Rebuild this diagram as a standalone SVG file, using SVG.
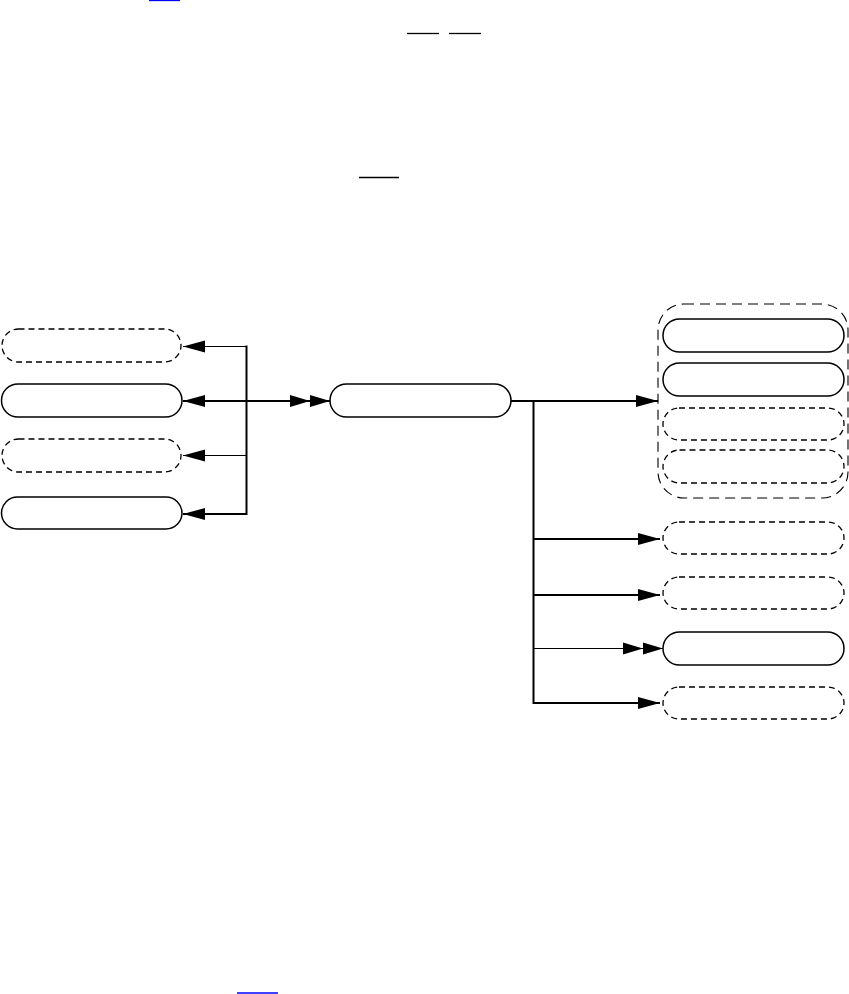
<svg xmlns="http://www.w3.org/2000/svg" width="849" height="994" viewBox="0 0 849 994">
<style>
.n{fill:#fff;stroke:#000;stroke-width:1.5}
.d{fill:#fff;stroke:#000;stroke-width:1.3;stroke-dasharray:6,4}
.g{fill:none;stroke:#000;stroke-width:1.1;stroke-dasharray:10,6}
.c{fill:none;stroke:#000}
.t{stroke-width:2}
.h{stroke-width:1.2}
</style>
<defs>
<marker id="a" markerUnits="userSpaceOnUse" markerWidth="22" markerHeight="12" refX="22" refY="6" orient="auto" overflow="visible"><path d="M0,0 L22,6 L0,12 Z" fill="#000"/></marker>
<marker id="aa" markerUnits="userSpaceOnUse" markerWidth="40" markerHeight="12" refX="40" refY="6" orient="auto" overflow="visible"><path d="M0,0 L20,6 L0,12 Z M20,0 L40,6 L20,12 Z" fill="#000"/></marker>
</defs>
<g id="underlines">
<line x1="149" y1="0.5" x2="180" y2="0.5" stroke="#0000ff" stroke-width="1.3"/>
<line x1="407" y1="33.5" x2="439" y2="33.5" stroke="#000" stroke-width="1.3"/>
<line x1="449" y1="33.5" x2="481" y2="33.5" stroke="#000" stroke-width="1.3"/>
<line x1="359" y1="177.5" x2="399" y2="177.5" stroke="#000" stroke-width="1.3"/>
<line x1="237" y1="993" x2="278" y2="993" stroke="#0000ff" stroke-width="1.3"/>
</g>
<g id="connectors">
<line class="c t" x1="246.5" y1="345.5" x2="246.5" y2="515"/>
<path class="c h" d="M246.5,346.5 H183" marker-end="url(#a)"/>
<path class="c t" d="M246.5,401 H183" marker-end="url(#a)"/>
<path class="c t" d="M246.5,401 H330" marker-end="url(#aa)"/>
<path class="c h" d="M246.5,455.5 H183" marker-end="url(#a)"/>
<path class="c t" d="M246.5,514 H183" marker-end="url(#a)"/>
<path class="c t" d="M511,401 H658" marker-end="url(#a)"/>
<line class="c t" x1="533.5" y1="400" x2="533.5" y2="704"/>
<path class="c t" d="M533.5,539 H660" marker-end="url(#a)"/>
<path class="c t" d="M533.5,595 H660" marker-end="url(#a)"/>
<path class="c h" d="M533.5,648.5 H663" marker-end="url(#aa)"/>
<path class="c t" d="M533.5,703 H660" marker-end="url(#a)"/>
</g>
<g id="left1"><rect class="d" x="2" y="329" width="179" height="33" rx="16.5"/></g>
<g id="left2"><rect class="n" x="1.5" y="384" width="180.5" height="33" rx="16.5"/></g>
<g id="left3"><rect class="d" x="2" y="439" width="179" height="33" rx="16.5"/></g>
<g id="left4"><rect class="n" x="1.5" y="497" width="180.5" height="32" rx="16"/></g>
<g id="center"><rect class="n" x="330" y="384" width="181" height="33" rx="16.5"/></g>
<g id="group">
<rect class="g" x="658" y="304" width="190" height="194" rx="26"/>
<g id="g1"><rect class="n" x="663" y="319" width="181" height="33" rx="16.5"/></g>
<g id="g2"><rect class="n" x="663" y="363" width="181" height="33" rx="16.5"/></g>
<g id="g3"><rect class="d" x="663" y="408" width="181" height="32" rx="16"/></g>
<g id="g4"><rect class="d" x="663" y="450" width="181" height="33" rx="16.5"/></g>
</g>
<g id="r1"><rect class="d" x="663" y="522" width="181" height="32" rx="16"/></g>
<g id="r2"><rect class="d" x="663" y="577" width="181" height="32" rx="16"/></g>
<g id="r3"><rect class="n" x="663" y="632" width="181" height="33" rx="16.5"/></g>
<g id="r4"><rect class="d" x="663" y="687" width="181" height="32" rx="16"/></g>
</svg>
